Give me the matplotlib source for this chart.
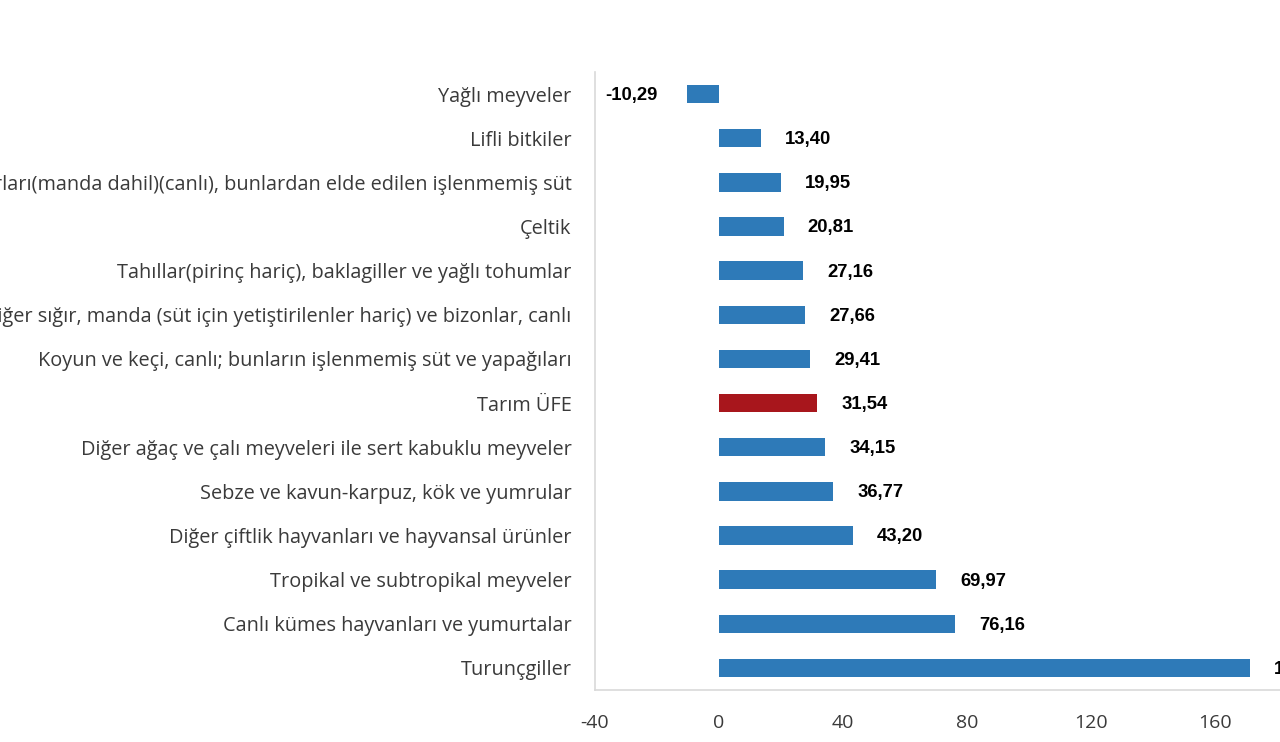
import matplotlib
matplotlib.use("Agg")
import matplotlib.pyplot as plt

categories = [
    "Yağlı meyveler",
    "Lifli bitkiler",
    "Süt sığırları(manda dahil)(canlı), bunlardan elde edilen işlenmemiş süt",
    "Çeltik",
    "Tahıllar(pirinç hariç), baklagiller ve yağlı tohumlar",
    "Diğer sığır, manda (süt için yetiştirilenler hariç) ve bizonlar, canlı",
    "Koyun ve keçi, canlı; bunların işlenmemiş süt ve yapağıları",
    "Tarım ÜFE",
    "Diğer ağaç ve çalı meyveleri ile sert kabuklu meyveler",
    "Sebze ve kavun-karpuz, kök ve yumrular",
    "Diğer çiftlik hayvanları ve hayvansal ürünler",
    "Tropikal ve subtropikal meyveler",
    "Canlı kümes hayvanları ve yumurtalar",
    "Turunçgiller",
]
values = [-10.29, 13.40, 19.95, 20.81, 27.16, 27.66, 29.41, 31.54, 34.15, 36.77, 43.20, 69.97, 76.16, 171.30]
highlight = "Tarım ÜFE"
xticks = [-40, 0, 40, 80, 120, 160]

blue = "#2E7AB8"
red = "#A8161C"

fig = plt.figure(figsize=(12.8, 7.42), dpi=100)
ax = fig.add_axes([595/1280, (742-690)/742, 744/1280, 618/742])

n = len(categories)
ypos = list(range(n))[::-1]
colors = [red if c == highlight else blue for c in categories]
ax.barh(ypos, values, height=0.42, color=colors, zorder=2)

ax.set_xlim(-40, 200)
ax.set_ylim(-0.5, n - 0.5)
ax.set_xticks(xticks)
ax.set_xticklabels([str(t) for t in xticks], fontfamily="Open Sans", fontsize=14, color="#3a3a3a")
ax.set_yticks(ypos)
ax.set_yticklabels(categories, fontfamily="Open Sans", fontsize=14.3, color="#3a3a3a")
ax.tick_params(axis="both", length=0)
ax.tick_params(axis="x", pad=17)
ax.tick_params(axis="y", pad=17)

for s in ["top", "right"]:
    ax.spines[s].set_visible(False)
for s in ["left", "bottom"]:
    ax.spines[s].set_color("#d9d9d9")
    ax.spines[s].set_linewidth(1.2)

for y, v in zip(ypos, values):
    txt = f"{v:.2f}".replace(".", ",")
    if v >= 0:
        ax.annotate(txt, (v, y), xytext=(17.5, -1), textcoords="offset points",
                    ha="left", va="center", fontsize=13.3, fontweight="bold",
                    fontfamily="Liberation Sans", color="#000000")
    else:
        ax.annotate(txt, (v, y), xytext=(-21, -1), textcoords="offset points",
                    ha="right", va="center", fontsize=13.3, fontweight="bold",
                    fontfamily="Liberation Sans", color="#000000")

fig.savefig("out.png", dpi=100)
